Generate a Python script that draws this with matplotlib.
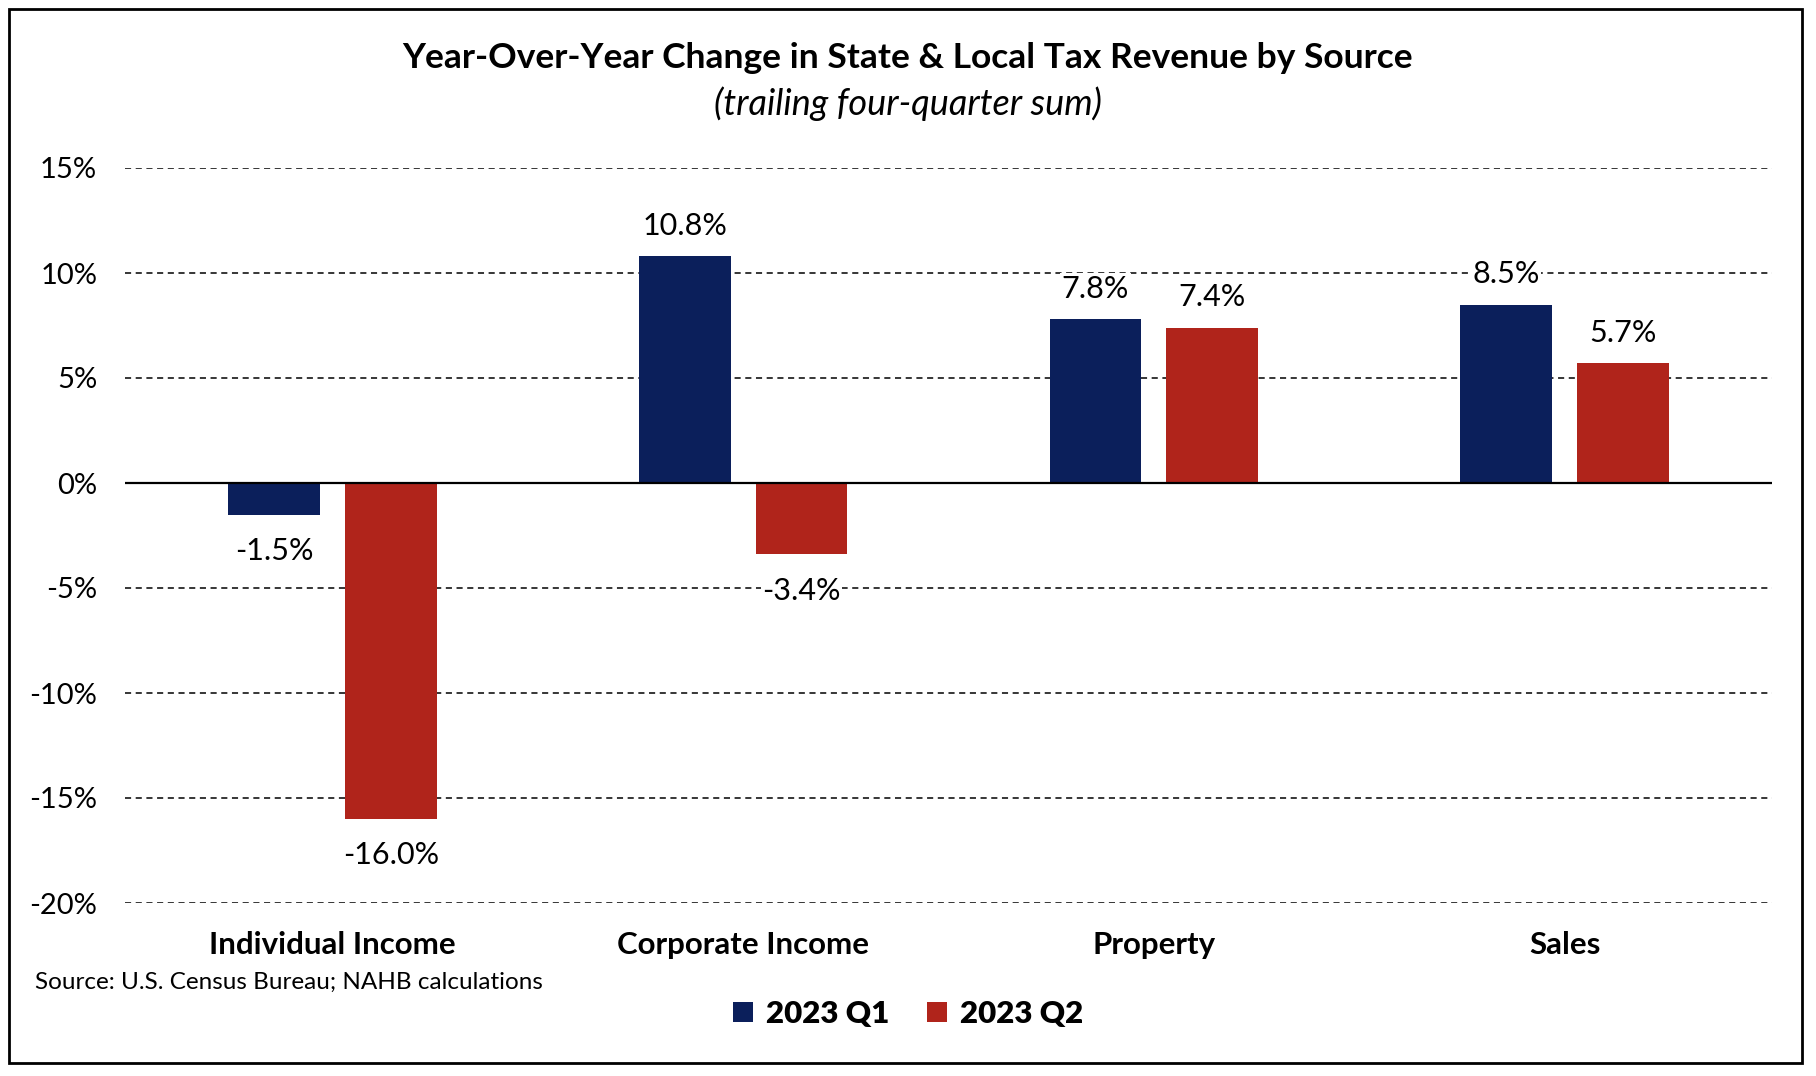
import numpy as np
import matplotlib.pyplot as plt
from matplotlib.patches import Rectangle

plt.rcParams['font.family'] = ['Lato', 'DejaVu Sans']

categories = ['Individual Income', 'Corporate Income', 'Property', 'Sales']
q1_vals = [-1.5, 10.8, 7.8, 8.5]
q2_vals = [-16.0, -3.4, 7.4, 5.7]
series_names = ['2023 Q1', '2023 Q2']
navy = '#0b1f5b'
red = '#b0241b'

W, H = 1816, 1076
fig = plt.figure(figsize=(W / 100, H / 100), dpi=100)
ax = fig.add_axes([125 / W, 1 - 903 / H, (1772 - 125) / W, (903 - 168) / H])

ind = np.arange(len(categories))
width = 0.223
off = 0.142
b1 = ax.bar(ind - off, q1_vals, width, color=navy, zorder=3)
b2 = ax.bar(ind + off, q2_vals, width, color=red, zorder=3)

ax.set_xlim(-0.505, 3.505)
ax.set_ylim(-20, 15)
ax.set_yticks(np.arange(-20, 16, 5))
ax.set_yticklabels([f'{v}%' for v in range(-20, 16, 5)], fontsize=21)
ax.tick_params(axis='y', length=0, pad=20)
ax.set_xticks(ind)
ax.set_xticklabels(categories, fontsize=22.5, fontweight='bold')
ax.tick_params(axis='x', length=0, pad=20)
for s in ax.spines.values():
    s.set_visible(False)
for v in range(-20, 16, 5):
    if v == 0:
        ax.axhline(0, color='black', lw=1.6, zorder=4)
    else:
        ax.axhline(v, color='black', lw=1.1, ls=(0, (4, 3)), zorder=1)

# value labels, white box hides the grid line behind them
for bars in (b1, b2):
    for r in bars:
        h = r.get_height()
        x = r.get_x() + r.get_width() / 2
        if h >= 0:
            ax.annotate(f'{h:.1f}%', (x, h), xytext=(0, 12), textcoords='offset points',
                        ha='center', va='bottom', fontsize=22, zorder=5,
                        bbox=dict(facecolor='white', edgecolor='none', pad=1))
        else:
            ax.annotate(f'{h:.1f}%', (x, h), xytext=(0, -16), textcoords='offset points',
                        ha='center', va='top', fontsize=22, zorder=5,
                        bbox=dict(facecolor='white', edgecolor='none', pad=1))

fig.text(0.5, 1 - 58 / H, 'Year-Over-Year Change in State & Local Tax Revenue by Source',
         ha='center', va='center', fontsize=25.5, fontweight='bold')
fig.text(0.5, 1 - 104 / H, '(trailing four-quarter sum)', ha='center', va='center',
         fontsize=26, style='italic')
fig.text(35 / W, 1 - 982 / H, 'Source: U.S. Census Bureau; NAHB calculations',
         ha='left', va='center', fontsize=17.5)

leg = fig.legend((b1[0], b2[0]), series_names, loc='center', bbox_to_anchor=(0.5, 1 - 1014 / H),
                 ncol=2, frameon=False, prop={'size': 22.5, 'weight': 'heavy'},
                 handlelength=0.65, handleheight=0.65, handletextpad=0.4, columnspacing=1.2)

fig.patches.append(Rectangle((9 / W, 1 - 1063 / H), (1802 - 9) / W, (1063 - 9) / H,
                             transform=fig.transFigure, fill=False, edgecolor='black', lw=2))

fig.savefig('out.png', dpi=100)
